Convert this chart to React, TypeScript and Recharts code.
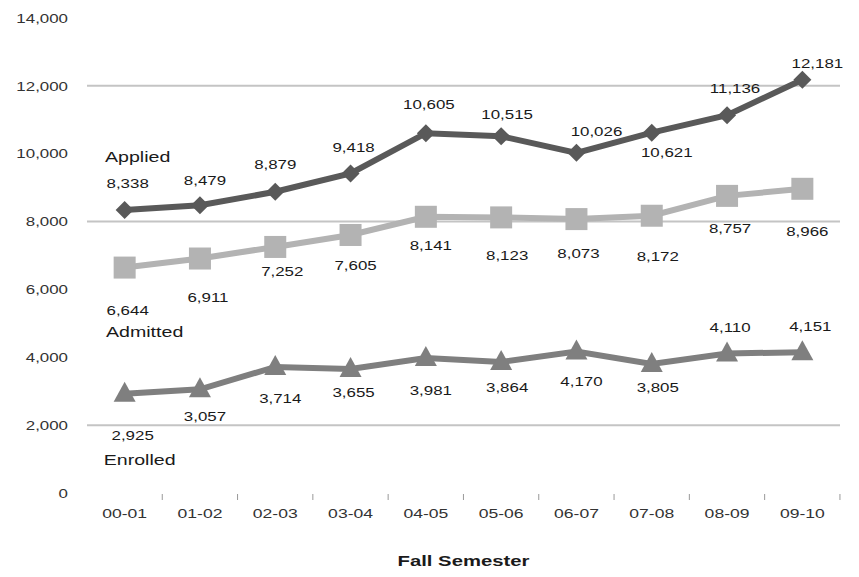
import { Line, LineChart, ReferenceLine, XAxis, YAxis, LabelList } from "recharts"

const semesters = ["00-01", "01-02", "02-03", "03-04", "04-05", "05-06", "06-07", "07-08", "08-09", "09-10"]
const applied = [8338, 8479, 8879, 9418, 10605, 10515, 10026, 10621, 11136, 12181]
const admitted = [6644, 6911, 7252, 7605, 8141, 8123, 8073, 8172, 8757, 8966]
const enrolled = [2925, 3057, 3714, 3655, 3981, 3864, 4170, 3805, 4110, 4151]
const yTicks = [0, 2000, 4000, 6000, 8000, 10000, 12000, 14000]
const gridValues = [2000, 8000, 12000]

const data = semesters.map((s, i) => ({
  semester: s,
  applied: applied[i],
  admitted: admitted[i],
  enrolled: enrolled[i],
}))

// label offsets (dx, dy) from each point
const appliedOffsets = [[3, -27], [5, -25], [0, -27], [3, -26], [3, -29], [6, -22], [20, -22], [15, 20], [8, -27], [15, -16]]
const admittedOffsets = [[3, 43], [8, 39], [7, 24], [5, 30], [5, 28], [6, 38], [2, 34], [6, 41], [3, 32], [5, 42]]
const enrolledOffsets = [[8, 41], [5, 27], [5, 31], [3, 23], [5, 32], [6, 25], [5, 30], [6, 23], [3, -26], [8, -26]]

const fmt = (v: number) => v.toLocaleString("en-US")

// the reference type is stretched sideways, so draw text with a horizontal scale
const WideText = ({ x, y, sx, anchor = "middle", size, fill, weight, children }: any) => (
  <text
    transform={`translate(${x},${y}) scale(${sx},1)`}
    textAnchor={anchor}
    dominantBaseline="central"
    fontSize={size}
    fontWeight={weight}
    fill={fill}
  >
    {children}
  </text>
)

const makeLabel = (offsets: number[][], name: string, nameOffset: number[]) => (props: any) => {
  const { x, y, value, index } = props
  const [dx, dy] = offsets[index]
  return (
    <g>
      <WideText x={x + dx} y={y + dy} sx={1.3} size={13} fill="#1a1a1a">
        {fmt(value)}
      </WideText>
      {index === 0 && (
        <WideText x={x + nameOffset[0]} y={y + nameOffset[1]} sx={1.4} size={14} fill="#1a1a1a">
          {name}
        </WideText>
      )}
    </g>
  )
}

const Diamond = (props: any) => {
  const { cx, cy } = props
  const r = 9
  return <polygon points={`${cx},${cy - r} ${cx + r},${cy} ${cx},${cy + r} ${cx - r},${cy}`} fill="#595959" />
}

const Square = (props: any) => {
  const { cx, cy } = props
  return <rect x={cx - 11} y={cy - 11} width={22} height={22} fill="#b3b3b3" />
}

const Triangle = (props: any) => {
  const { cx, cy } = props
  return <polygon points={`${cx},${cy - 12} ${cx + 11},${cy + 8} ${cx - 11},${cy + 8}`} fill="#7f7f7f" />
}

const XTick = (props: any) => {
  const { x, y, payload } = props
  return (
    <g>
      <line x1={x + 37.6} y1={y + 1} x2={x + 37.6} y2={y + 7} stroke="#999" />
      <WideText x={x} y={y + 20} sx={1.35} size={13} fill="#333">
        {payload.value}
      </WideText>
    </g>
  )
}

const YTick = (props: any) => {
  const { x, y, payload } = props
  return (
    <WideText x={x} y={y} sx={1.3} size={13} anchor="end" fill="#333">
      {fmt(payload.value)}
    </WideText>
  )
}

const AxisTitle = (props: any) => {
  const { viewBox } = props
  return (
    <WideText x={viewBox.x + viewBox.width / 2} y={viewBox.y + 68} sx={1.45} size={14} weight="bold" fill="#1a1a1a">
      Fall Semester
    </WideText>
  )
}

export default function App() {
  return (
    <div style={{ margin: -8, fontFamily: "'Liberation Sans', Arial, sans-serif" }}>
      <LineChart width={859} height={577} data={data} margin={{ top: 18, right: 19, left: 0, bottom: 0 }}>
        {gridValues.map((v) => (
          <ReferenceLine key={v} y={v} stroke="#c4c4c4" strokeWidth={2} />
        ))}
        <XAxis
          dataKey="semester"
          scale="band"
          height={84}
          axisLine={false}
          tickLine={false}
          tickSize={0}
          tickMargin={0}
          tick={<XTick />}
          interval={0}
          label={<AxisTitle />}
        />
        <YAxis
          width={87}
          domain={[0, 14000]}
          ticks={yTicks}
          axisLine={false}
          tickLine={false}
          tickMargin={13}
          tick={<YTick />}
        />
        <Line dataKey="applied" stroke="#595959" strokeWidth={6} dot={<Diamond />} isAnimationActive={false}>
          <LabelList dataKey="applied" content={makeLabel(appliedOffsets, "Applied", [13, -53])} />
        </Line>
        <Line dataKey="admitted" stroke="#b3b3b3" strokeWidth={6} dot={<Square />} isAnimationActive={false}>
          <LabelList dataKey="admitted" content={makeLabel(admittedOffsets, "Admitted", [20, 65])} />
        </Line>
        <Line dataKey="enrolled" stroke="#7f7f7f" strokeWidth={6} dot={<Triangle />} isAnimationActive={false}>
          <LabelList dataKey="enrolled" content={makeLabel(enrolledOffsets, "Enrolled", [15, 67])} />
        </Line>
      </LineChart>
    </div>
  )
}
